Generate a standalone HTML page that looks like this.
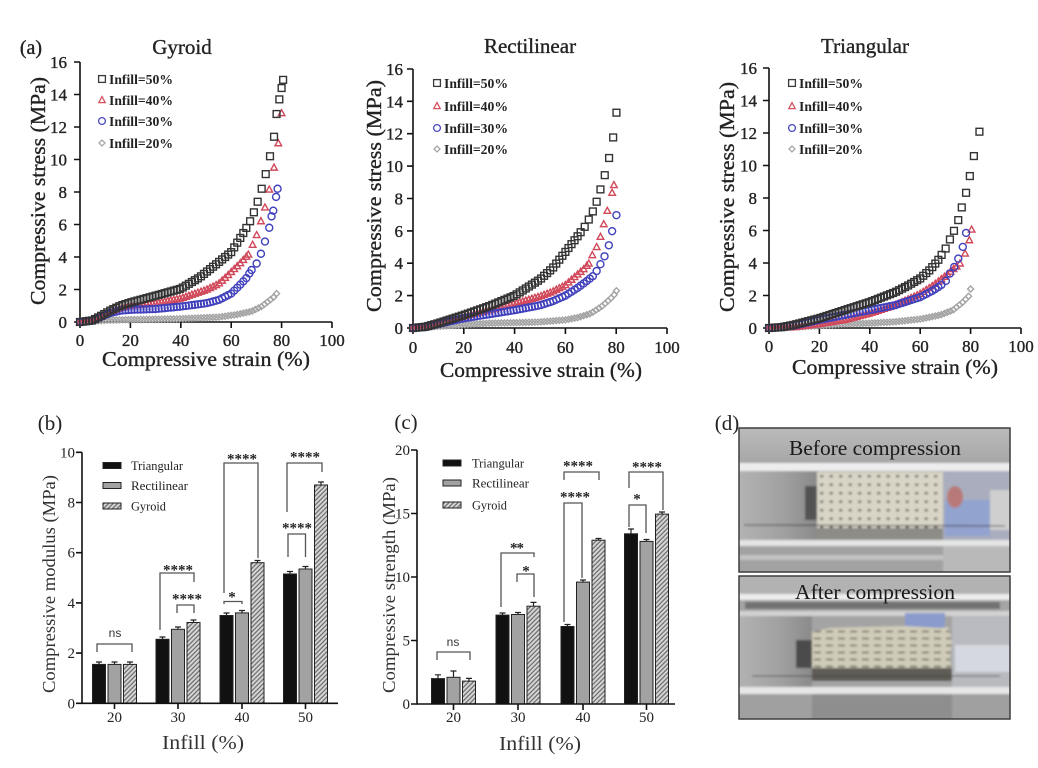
<!DOCTYPE html>
<html><head><meta charset="utf-8"><style>
html,body{margin:0;padding:0;background:#fff;}
svg{display:block;}
text{font-family:"Liberation Serif",serif;fill:#222;}
.hv{stroke:#222;stroke-width:0.35px;}
.s{font-family:"Liberation Sans",sans-serif;font-weight:bold;fill:#333;}
.ns{font-family:"Liberation Sans",sans-serif;fill:#333;}
.lg{font-weight:bold;fill:#333;}
.bl{fill:#333;}
</style></head><body>
<svg width="1038" height="768" viewBox="0 0 1038 768" xmlns="http://www.w3.org/2000/svg">
<defs>
<pattern id="hatch" patternUnits="userSpaceOnUse" width="3.2" height="3.2" patternTransform="rotate(45)">
<rect width="3.2" height="3.2" fill="#d6d6d6"/><line x1="0.8" y1="0" x2="0.8" y2="3.2" stroke="#6a6a6a" stroke-width="1.2"/>
</pattern>
<pattern id="dots" patternUnits="userSpaceOnUse" x="817" y="472" width="9.5" height="8.5">
<ellipse cx="4.7" cy="4.2" rx="1.6" ry="1.1" fill="#3a3a36"/>
</pattern>
<pattern id="lines2" patternUnits="userSpaceOnUse" x="812" y="628" width="12" height="7">
<line x1="2" y1="3.5" x2="9" y2="3.5" stroke="#5e5a4e" stroke-width="1.4"/>
</pattern>
<linearGradient id="gTop" x1="0" y1="0" x2="0" y2="1"><stop offset="0" stop-color="#bdbdbd"/><stop offset="1" stop-color="#a6a6a6"/></linearGradient>
<linearGradient id="gLeft" x1="0" y1="0" x2="1" y2="0"><stop offset="0" stop-color="#b4b4b4"/><stop offset="0.6" stop-color="#a0a0a0"/><stop offset="1" stop-color="#8a8a8a"/></linearGradient>
<clipPath id="c1"><rect x="739" y="428" width="271" height="144"/></clipPath>
<clipPath id="c2"><rect x="739" y="576" width="271" height="143"/></clipPath>
<filter id="blr" x="-5%" y="-5%" width="110%" height="110%"><feGaussianBlur stdDeviation="1.1"/></filter>
</defs>
<rect width="1038" height="768" fill="#fff"/>

<!-- ================= (a) Gyroid ================= -->
<text x="31" y="54" font-size="20" text-anchor="middle" class="hv">(a)</text>
<text x="182" y="54" font-size="21" text-anchor="middle" class="hv">Gyroid</text>
<g stroke="#111" stroke-width="1.6" fill="none">
<path d="M80,62 V322 H332"/>
<path d="M74,322H80M74,289.5H80M74,257H80M74,224.5H80M74,192H80M74,159.5H80M74,127H80M74,94.5H80M74,62H80"/>
<path d="M80,322V328M130.4,322V328M180.8,322V328M231.2,322V328M281.6,322V328M332,322V328"/>
</g>
<g font-size="17" text-anchor="end" class="hv">
<text x="67" y="328">0</text><text x="67" y="295.5">2</text><text x="67" y="263">4</text><text x="67" y="230.5">6</text><text x="67" y="198">8</text><text x="67" y="165.5">10</text><text x="67" y="133">12</text><text x="67" y="100.5">14</text><text x="67" y="68">16</text>
</g>
<g font-size="17" text-anchor="middle" class="hv">
<text x="80" y="346">0</text><text x="130.4" y="346">20</text><text x="180.8" y="346">40</text><text x="231.2" y="346">60</text><text x="281.6" y="346">80</text><text x="332" y="346">100</text>
</g>
<text transform="translate(45,191) rotate(-90)" font-size="21" text-anchor="middle" textLength="228" lengthAdjust="spacingAndGlyphs" class="hv">Compressive stress (MPa)</text>
<text x="206" y="366" font-size="21" text-anchor="middle" textLength="208" lengthAdjust="spacingAndGlyphs" class="hv">Compressive strain (%)</text>
<g id="pG"></g>
<g fill="none" stroke-width="1.3">
<rect x="98.6" y="75.6" width="6.8" height="6.8" stroke="#3a3a3a"/>
<polygon points="102,96.6 98.8,102.6 105.2,102.6" stroke="#d4505c"/>
<circle cx="102" cy="121" r="3.4" stroke="#4848c0"/>
<polygon points="102,140 105,143 102,146 99,143" stroke="#a8a8a8"/>
</g>
<g font-size="14" class="lg">
<text x="109" y="84" textLength="64" lengthAdjust="spacingAndGlyphs">Infill=50%</text>
<text x="109" y="105" textLength="64" lengthAdjust="spacingAndGlyphs">Infill=40%</text>
<text x="109" y="126" textLength="64" lengthAdjust="spacingAndGlyphs">Infill=30%</text>
<text x="109" y="148" textLength="64" lengthAdjust="spacingAndGlyphs">Infill=20%</text>
</g>

<!-- ================= Rectilinear ================= -->
<text x="530" y="53" font-size="21" text-anchor="middle" class="hv">Rectilinear</text>
<g stroke="#111" stroke-width="1.6" fill="none">
<path d="M413,69 V328 H667"/>
<path d="M407,328H413M407,295.6H413M407,263.2H413M407,230.9H413M407,198.5H413M407,166.1H413M407,133.7H413M407,101.3H413M407,69H413"/>
<path d="M413,328V334M463.8,328V334M514.6,328V334M565.4,328V334M616.2,328V334M667,328V334"/>
</g>
<g font-size="17" text-anchor="end" class="hv">
<text x="403" y="334">0</text><text x="403" y="301.6">2</text><text x="403" y="269.2">4</text><text x="403" y="236.9">6</text><text x="403" y="204.5">8</text><text x="403" y="172.1">10</text><text x="403" y="139.7">12</text><text x="403" y="107.3">14</text><text x="403" y="75">16</text>
</g>
<g font-size="17" text-anchor="middle" class="hv">
<text x="413" y="353">0</text><text x="463.8" y="353">20</text><text x="514.6" y="353">40</text><text x="565.4" y="353">60</text><text x="616.2" y="353">80</text><text x="667" y="353">100</text>
</g>
<text transform="translate(381,196) rotate(-90)" font-size="21" text-anchor="middle" textLength="232" lengthAdjust="spacingAndGlyphs" class="hv">Compressive stress (MPa)</text>
<text x="541" y="377" font-size="21" text-anchor="middle" textLength="202" lengthAdjust="spacingAndGlyphs" class="hv">Compressive strain (%)</text>
<g id="pR"></g>
<g fill="none" stroke-width="1.3">
<rect x="433.6" y="79.6" width="6.8" height="6.8" stroke="#3a3a3a"/>
<polygon points="437,102.6 433.8,108.6 440.2,108.6" stroke="#d4505c"/>
<circle cx="437" cy="128" r="3.4" stroke="#4848c0"/>
<polygon points="437,146 440,149 437,152 434,149" stroke="#a8a8a8"/>
</g>
<g font-size="14" class="lg">
<text x="444" y="88" textLength="64" lengthAdjust="spacingAndGlyphs">Infill=50%</text>
<text x="444" y="111" textLength="64" lengthAdjust="spacingAndGlyphs">Infill=40%</text>
<text x="444" y="133" textLength="64" lengthAdjust="spacingAndGlyphs">Infill=30%</text>
<text x="444" y="154" textLength="64" lengthAdjust="spacingAndGlyphs">Infill=20%</text>
</g>

<!-- ================= Triangular ================= -->
<text x="865" y="53" font-size="21" text-anchor="middle" class="hv">Triangular</text>
<g stroke="#111" stroke-width="1.6" fill="none">
<path d="M769,68 V328 H1021"/>
<path d="M763,328H769M763,295.5H769M763,263H769M763,230.5H769M763,198H769M763,165.5H769M763,133H769M763,100.5H769M763,68H769"/>
<path d="M769,328V334M819.4,328V334M869.8,328V334M920.2,328V334M970.6,328V334M1021,328V334"/>
</g>
<g font-size="17" text-anchor="end" class="hv">
<text x="757" y="334">0</text><text x="757" y="301.5">2</text><text x="757" y="269">4</text><text x="757" y="236.5">6</text><text x="757" y="204">8</text><text x="757" y="171.5">10</text><text x="757" y="139">12</text><text x="757" y="106.5">14</text><text x="757" y="74">16</text>
</g>
<g font-size="17" text-anchor="middle" class="hv">
<text x="769" y="352">0</text><text x="819.4" y="352">20</text><text x="869.8" y="352">40</text><text x="920.2" y="352">60</text><text x="970.6" y="352">80</text><text x="1021" y="352">100</text>
</g>
<text transform="translate(734,197) rotate(-90)" font-size="21" text-anchor="middle" textLength="230" lengthAdjust="spacingAndGlyphs" class="hv">Compressive stress (MPa)</text>
<text x="895" y="374" font-size="21" text-anchor="middle" textLength="206" lengthAdjust="spacingAndGlyphs" class="hv">Compressive strain (%)</text>
<g id="pT"></g>
<g fill="none" stroke-width="1.3">
<rect x="788.6" y="79.6" width="6.8" height="6.8" stroke="#3a3a3a"/>
<polygon points="792,102.6 788.8,108.6 795.2,108.6" stroke="#d4505c"/>
<circle cx="792" cy="128" r="3.4" stroke="#4848c0"/>
<polygon points="792,146 795,149 792,152 789,149" stroke="#a8a8a8"/>
</g>
<g font-size="14" class="lg">
<text x="799" y="88" textLength="64" lengthAdjust="spacingAndGlyphs">Infill=50%</text>
<text x="799" y="111" textLength="64" lengthAdjust="spacingAndGlyphs">Infill=40%</text>
<text x="799" y="133" textLength="64" lengthAdjust="spacingAndGlyphs">Infill=30%</text>
<text x="799" y="154" textLength="64" lengthAdjust="spacingAndGlyphs">Infill=20%</text>
</g>

<!-- ================= (b) ================= -->
<text x="50" y="430" font-size="21" text-anchor="middle">(b)</text>
<g stroke="#222" stroke-width="1">
<rect x="92.5" y="664.4" width="13" height="38.9" fill="#111"/>
<rect x="108" y="664.4" width="13" height="38.9" fill="#a2a2a2"/>
<rect x="123.5" y="664.4" width="13" height="38.9" fill="url(#hatch)"/>
<rect x="156" y="639.3" width="13" height="64" fill="#111"/>
<rect x="171.5" y="629.3" width="13" height="74" fill="#a2a2a2"/>
<rect x="187" y="622.5" width="13" height="80.8" fill="url(#hatch)"/>
<rect x="220" y="615.5" width="13" height="87.8" fill="#111"/>
<rect x="235.5" y="612.9" width="13" height="90.4" fill="#a2a2a2"/>
<rect x="251" y="562.7" width="13" height="140.6" fill="url(#hatch)"/>
<rect x="283.5" y="574" width="13" height="129.3" fill="#111"/>
<rect x="299" y="569" width="13" height="134.3" fill="#a2a2a2"/>
<rect x="314.5" y="485" width="13" height="218.3" fill="url(#hatch)"/>
</g>
<g stroke="#222" stroke-width="1.2" fill="none">
<path d="M99,664.4V662M96,662H102M114.5,664.4V662M111.5,662H117.5M130,664.4V662M127,662H133"/>
<path d="M162.5,639.3V637M159.5,637H165.5M178,629.3V627M175,627H181M193.5,622.5V620M190.5,620H196.5"/>
<path d="M226.5,615.5V613M223.5,613H229.5M242,612.9V610.5M239,610.5H245M257.5,562.7V560.5M254.5,560.5H260.5"/>
<path d="M290,574V571.5M287,571.5H293M305.5,569V566.5M302.5,566.5H308.5M321,485V482M318,482H324"/>
</g>
<g stroke="#111" stroke-width="1.6" fill="none">
<path d="M82,452.3V703.3H338"/>
<path d="M76,703.3H82M76,653.1H82M76,602.9H82M76,552.7H82M76,502.5H82M76,452.3H82"/>
<path d="M114.5,703.3V709M178,703.3V709M242,703.3V709M305.5,703.3V709"/>
</g>
<g font-size="15" text-anchor="end" class="bl">
<text x="75" y="708.3">0</text><text x="75" y="658.1">2</text><text x="75" y="607.9">4</text><text x="75" y="557.7">6</text><text x="75" y="507.5">8</text><text x="75" y="457.3">10</text>
</g>
<g font-size="15" text-anchor="middle" class="bl">
<text x="114.5" y="722">20</text><text x="178" y="722">30</text><text x="242" y="722">40</text><text x="305.5" y="722">50</text>
</g>
<text transform="translate(55,584) rotate(-90)" font-size="18" text-anchor="middle" textLength="218" lengthAdjust="spacingAndGlyphs" class="bl">Compressive modulus (MPa)</text>
<text x="203" y="749" font-size="20" text-anchor="middle" textLength="82" lengthAdjust="spacingAndGlyphs" class="bl">Infill (%)</text>
<g stroke="#222" stroke-width="1">
<rect x="103" y="462.5" width="18" height="6" fill="#111"/>
<rect x="103" y="482.5" width="18" height="6" fill="#a2a2a2"/>
<rect x="103" y="503" width="18" height="6" fill="url(#hatch)"/>
</g>
<g font-size="13" class="bl">
<text x="131" y="470" textLength="52" lengthAdjust="spacingAndGlyphs">Triangular</text>
<text x="131" y="490" textLength="57" lengthAdjust="spacingAndGlyphs">Rectilinear</text>
<text x="131" y="510.5" textLength="35" lengthAdjust="spacingAndGlyphs">Gyroid</text>
</g>
<g stroke="#555" stroke-width="1.3" fill="none">
<path d="M97,652V644H132V652"/>
<path d="M160,630V573H194V582"/>
<path d="M177,613V605H194V613"/>
<path d="M224,604V601.5H242V604"/>
<path d="M224,593V463H258V558"/>
<path d="M287,512V463H322V472"/>
<path d="M288,557V534H305.5V557"/>
</g>
<text x="115" y="637" font-size="12" text-anchor="middle" class="ns">ns</text>
<g font-size="15" text-anchor="middle" class="s">
<text x="178" y="574.7" textLength="30" lengthAdjust="spacing">****</text>
<text x="187" y="603.7" textLength="30" lengthAdjust="spacing">****</text>
<text x="232" y="601.7">*</text>
<text x="242" y="463.7" textLength="30" lengthAdjust="spacing">****</text>
<text x="305" y="461.7" textLength="30" lengthAdjust="spacing">****</text>
<text x="297" y="532.7" textLength="30" lengthAdjust="spacing">****</text>
</g>

<!-- ================= (c) ================= -->
<text x="406" y="429" font-size="21" text-anchor="middle">(c)</text>
<g stroke="#222" stroke-width="1">
<rect x="431.5" y="678.6" width="13" height="25.4" fill="#111"/>
<rect x="447" y="677.3" width="13" height="26.7" fill="#a2a2a2"/>
<rect x="462.5" y="681.1" width="13" height="22.9" fill="url(#hatch)"/>
<rect x="496" y="615.1" width="13" height="88.9" fill="#111"/>
<rect x="511.5" y="614.5" width="13" height="89.5" fill="#a2a2a2"/>
<rect x="527" y="606.2" width="13" height="97.8" fill="url(#hatch)"/>
<rect x="561" y="626.5" width="13" height="77.5" fill="#111"/>
<rect x="576.5" y="582.1" width="13" height="121.9" fill="#a2a2a2"/>
<rect x="592" y="540.2" width="13" height="163.8" fill="url(#hatch)"/>
<rect x="624.5" y="533.8" width="13" height="170.2" fill="#111"/>
<rect x="640" y="541.4" width="13" height="162.6" fill="#a2a2a2"/>
<rect x="655.5" y="514.1" width="13" height="189.9" fill="url(#hatch)"/>
</g>
<g stroke="#222" stroke-width="1.2" fill="none">
<path d="M438,678.6V674.8M435,674.8H441M453.5,677.3V671M450.5,671H456.5M469,681.1V678.4M466,678.4H472"/>
<path d="M502.5,615.1V613M499.5,613H505.5M518,614.5V612.5M515,612.5H521M533.5,606.2V602.4M530.5,602.4H536.5"/>
<path d="M567.5,626.5V624.5M564.5,624.5H570.5M583,582.1V580M580,580H586M598.5,540.2V538.5M595.5,538.5H601.5"/>
<path d="M631,533.8V529M628,529H634M646.5,541.4V539.5M643.5,539.5H649.5M662,514.1V512M659,512H665"/>
</g>
<g stroke="#111" stroke-width="1.6" fill="none">
<path d="M417,450V704H675"/>
<path d="M411,704H417M411,640.5H417M411,577H417M411,513.5H417M411,450H417"/>
<path d="M453.5,704V710M518,704V710M583,704V710M646.5,704V710"/>
</g>
<g font-size="15" text-anchor="end" class="bl">
<text x="410" y="709">0</text><text x="410" y="645.5">5</text><text x="410" y="582">10</text><text x="410" y="518.5">15</text><text x="410" y="455">20</text>
</g>
<g font-size="15" text-anchor="middle" class="bl">
<text x="453.5" y="722">20</text><text x="518" y="722">30</text><text x="583" y="722">40</text><text x="646.5" y="722">50</text>
</g>
<text transform="translate(395,585) rotate(-90)" font-size="18" text-anchor="middle" textLength="216" lengthAdjust="spacingAndGlyphs" class="bl">Compressive strength (MPa)</text>
<text x="540" y="750" font-size="20" text-anchor="middle" textLength="82" lengthAdjust="spacingAndGlyphs" class="bl">Infill (%)</text>
<g stroke="#222" stroke-width="1">
<rect x="443" y="460" width="18" height="6" fill="#111"/>
<rect x="443" y="480" width="18" height="6" fill="#a2a2a2"/>
<rect x="443" y="502" width="18" height="6" fill="url(#hatch)"/>
</g>
<g font-size="13" class="bl">
<text x="472" y="467.5" textLength="52" lengthAdjust="spacingAndGlyphs">Triangular</text>
<text x="472" y="487.5" textLength="57" lengthAdjust="spacingAndGlyphs">Rectilinear</text>
<text x="472" y="509.5" textLength="35" lengthAdjust="spacingAndGlyphs">Gyroid</text>
</g>
<g stroke="#555" stroke-width="1.3" fill="none">
<path d="M437,660V652H470V660"/>
<path d="M501,607V553H534V557"/>
<path d="M517,582V574H534V597"/>
<path d="M564,480V472H599V480"/>
<path d="M564,622V503H582V578"/>
<path d="M629,488V472H663V510"/>
<path d="M629,527V505H646V533"/>
</g>
<text x="453" y="646" font-size="12" text-anchor="middle" class="ns">ns</text>
<g font-size="15" text-anchor="middle" class="s">
<text x="517" y="552.7" textLength="14" lengthAdjust="spacing">**</text>
<text x="526" y="575.7">*</text>
<text x="578" y="470.7" textLength="30" lengthAdjust="spacing">****</text>
<text x="575" y="501.7" textLength="30" lengthAdjust="spacing">****</text>
<text x="647" y="471.7" textLength="30" lengthAdjust="spacing">****</text>
<text x="637" y="503.7">*</text>
</g>

<!-- ================= (d) ================= -->
<text x="727" y="430" font-size="21" text-anchor="middle">(d)</text>
<g clip-path="url(#c1)"><g filter="url(#blr)">
<rect x="735" y="424" width="279" height="152" fill="#a6a6a6"/>
<rect x="735" y="424" width="279" height="40" fill="url(#gTop)"/>
<rect x="735" y="463" width="279" height="8" fill="#ededed"/>
<rect x="735" y="471" width="82" height="69" fill="url(#gLeft)"/>
<rect x="805" y="486" width="12" height="34" fill="#525252"/>
<rect x="817" y="472" width="126" height="56" fill="#d8d4c6"/>
<rect x="817" y="472" width="126" height="56" fill="url(#dots)"/>
<rect x="817" y="528" width="126" height="12" fill="#8e8c86"/>
<rect x="943" y="471" width="70" height="69" fill="#a9adbd"/>
<rect x="945" y="500" width="45" height="36" fill="#93a3cf"/>
<ellipse cx="955" cy="497" rx="8" ry="11" fill="#b87a78"/>
<rect x="990" y="490" width="24" height="40" fill="#cfcfcf"/>
<line x1="744" y1="525" x2="1005" y2="526" stroke="#3c3c3c" stroke-width="1"/>
<rect x="735" y="540" width="279" height="6" fill="#e4e4e4"/>
<rect x="735" y="546" width="279" height="30" fill="#a2a2a2"/>
<rect x="735" y="555" width="279" height="5" fill="#c2c2c2"/>
<rect x="943" y="546" width="70" height="30" fill="#b9b9b9"/>
</g></g>
<rect x="739" y="428" width="271" height="144" fill="none" stroke="#3d3d3d" stroke-width="1.5"/>
<text x="875" y="455" font-size="21" text-anchor="middle" textLength="172" lengthAdjust="spacingAndGlyphs" style="fill:#1a1a1a">Before compression</text>

<g clip-path="url(#c2)"><g filter="url(#blr)">
<rect x="735" y="572" width="279" height="152" fill="#a4a4a4"/>
<rect x="735" y="572" width="279" height="23" fill="#b2b2b2"/>
<rect x="735" y="594" width="279" height="6" fill="#ececec"/>
<rect x="745" y="602" width="255" height="7" fill="#727272"/>
<rect x="735" y="611" width="279" height="5" fill="#d2d2d2"/>
<rect x="735" y="616" width="77" height="71" fill="url(#gLeft)"/>
<rect x="796" y="640" width="16" height="28" fill="#4c4c4c"/>
<rect x="952" y="616" width="62" height="71" fill="#b8bac0"/>
<rect x="905" y="613" width="40" height="17" fill="#8b9bcb"/>
<rect x="955" y="645" width="59" height="27" fill="#d5d8e0"/>
<path d="M812,632 L830,628 L905,626 L940,628 L948,627 L952,640 L950,660 L952,672 L812,674 Z" fill="#d0ccb9"/>
<path d="M812,632 L830,628 L905,626 L940,628 L948,627 L952,640 L950,660 L952,672 L812,674 Z" fill="url(#lines2)"/>
<rect x="812" y="668" width="140" height="13" fill="#5e5c54"/>
<line x1="752" y1="676" x2="1000" y2="676" stroke="#444" stroke-width="1"/>
<rect x="735" y="687" width="279" height="7" fill="#e6e6e6"/>
<rect x="735" y="694" width="279" height="30" fill="#a0a0a0"/>
<rect x="812" y="694" width="140" height="30" fill="#8e8e8e"/>
</g></g>
<rect x="739" y="576" width="271" height="143" fill="none" stroke="#3d3d3d" stroke-width="1.5"/>
<text x="875" y="599" font-size="21" text-anchor="middle" textLength="160" lengthAdjust="spacingAndGlyphs" style="fill:#1a1a1a">After compression</text>
</svg>
<script>
(function(){
var NS='http://www.w3.org/2000/svg';
function lerp(k,x){for(var i=1;i<k.length;i++){if(x<=k[i][0]){var a=k[i-1],b=k[i];var t=(x-a[0])/(b[0]-a[0]);return a[1]+t*(b[1]-a[1]);}}return k[k.length-1][1];}
function add(g,type,px,py,col){
 var e;
 if(type==='s'){e=document.createElementNS(NS,'rect');e.setAttribute('x',px-3.4);e.setAttribute('y',py-3.4);e.setAttribute('width',6.8);e.setAttribute('height',6.8);}
 else if(type==='t'){e=document.createElementNS(NS,'polygon');e.setAttribute('points',px+','+(py-3.5)+' '+(px-3.3)+','+(py+2.5)+' '+(px+3.3)+','+(py+2.5));}
 else if(type==='c'){e=document.createElementNS(NS,'circle');e.setAttribute('cx',px);e.setAttribute('cy',py);e.setAttribute('r',3.5);}
 else {e=document.createElementNS(NS,'polygon');e.setAttribute('points',px+','+(py-3)+' '+(px+3)+','+py+' '+px+','+(py+3)+' '+(px-3)+','+py);}
 e.setAttribute('fill','none');e.setAttribute('stroke',col);e.setAttribute('stroke-width','1.4');
 g.appendChild(e);
}
var C={s:'#333333',t:'#d0485a',c:'#4040bc',d:'#a4a4a4'};
function draw(P,S){var g=document.getElementById(P.id);
 S.forEach(function(s){var k=s.k,T=s.t||k[k.length-1][0],step=1.2,pts=[];
  for(var x=0;x<T-0.6;x+=step)pts.push([x,lerp(k,x)]);
  k.forEach(function(p){if(p[0]>=T)pts.push(p);});
  pts.forEach(function(p){add(g,s.m,P.x0+p[0]*P.sx,P.y0-p[1]*P.sy,C[s.m]);});
 });
}
draw({id:'pG',x0:80,sx:2.52,y0:322,sy:16.25},[
 {m:'d',k:[[0,0],[10,0.1],[20,0.15],[40,0.2],[55,0.3],[62,0.45],[68,0.65],[72,0.95],[75,1.3],[77,1.55],[78,1.75]]},
 {m:'t',t:66.8,k:[[0,0],[5,0.08],[8,0.3],[12,0.6],[16,0.85],[20,1.0],[30,1.15],[40,1.45],[50,1.97],[55,2.35],[58.2,2.8],[60.8,3.2],[63.5,3.6],[66.8,4.15],[68.5,4.75],[70.1,5.35],[71.8,6.2],[73.4,7.05],[75.1,8.15],[77,9.5],[78.7,11.0],[80,12.85]]},
 {m:'c',t:68.1,k:[[0,0],[5,0.08],[8,0.3],[12,0.55],[16,0.7],[20,0.75],[30,0.8],[40,0.95],[50,1.15],[55,1.35],[60,1.75],[63,2.2],[66,2.7],[68.1,3.2],[70.1,3.6],[71.8,4.2],[73.4,4.95],[75.1,5.8],[76,6.5],[76.7,6.85],[77.8,7.7],[78.4,8.2]]},
 {m:'s',t:67.5,k:[[0,0],[5,0.1],[8,0.35],[12,0.7],[16,1.0],[20,1.2],[30,1.62],[40,2.05],[47.5,2.75],[54,3.55],[60,4.3],[63.5,5.15],[65.5,5.65],[67.5,6.2],[69,6.75],[70.5,7.4],[72.1,8.2],[73.7,9.1],[75.4,10.2],[77,11.4],[78,12.8],[79.1,13.7],[80,14.4],[80.6,14.9]]}
]);
draw({id:'pR',x0:413,sx:2.54,y0:328,sy:16.19},[
 {m:'d',k:[[0,0],[10,0.1],[20,0.2],[30,0.3],[40,0.33],[50,0.37],[60,0.5],[65,0.65],[70,0.9],[74,1.3],[77,1.7],[79,2.0],[80.1,2.3]]},
 {m:'t',t:69.2,k:[[0,0],[5,0.05],[10,0.3],[20,0.7],[30,1.1],[40,1.5],[50,1.95],[55,2.25],[60,2.65],[64,3.2],[67,3.6],[69.2,3.98],[70.6,4.5],[72.3,5.0],[73.8,5.63],[75.1,6.41],[76.5,7.24],[78.4,8.35],[79.1,8.83]]},
 {m:'c',t:70.8,k:[[0,0],[5,0.05],[10,0.25],[20,0.6],[30,0.85],[40,1.1],[50,1.4],[55,1.65],[60,2.0],[65,2.5],[68,2.85],[70.8,3.2],[72.3,3.52],[73.8,3.94],[75.4,4.43],[77.1,5.11],[78.4,5.98],[80.1,6.97]]},
 {m:'s',t:67.6,k:[[0,0],[5,0.08],[10,0.3],[20,0.8],[30,1.35],[40,2.0],[50,3.0],[55,3.7],[60,4.7],[64,5.5],[67.6,6.25],[69.2,6.7],[70.8,7.2],[72.3,7.8],[73.8,8.56],[75.5,9.44],[77.2,10.5],[78.8,11.77],[80.1,13.3]]}
]);
draw({id:'pT',x0:769,sx:2.52,y0:328,sy:16.25},[
 {m:'d',k:[[0,0],[10,0.05],[20,0.15],[30,0.25],[40,0.3],[50,0.38],[60,0.55],[68,0.8],[73,1.1],[77,1.6],[79.5,2.0],[80,2.4]]},
 {m:'t',t:75.8,k:[[0,0],[5,0.02],[10,0.05],[20,0.25],[30,0.5],[40,0.9],[50,1.4],[60,2.1],[65,2.6],[70,3.2],[73,3.6],[75.8,3.97],[77.8,4.58],[79.5,5.4],[80.4,6.06]]},
 {m:'c',t:70.2,k:[[0,0],[5,0.05],[10,0.15],[20,0.5],[30,0.8],[40,1.1],[50,1.4],[60,1.9],[65,2.3],[68,2.6],[70.2,2.9],[71.8,3.35],[73.5,3.76],[75.1,4.27],[76.9,4.99],[78.2,5.85]]},
 {m:'s',t:68.5,k:[[0,0],[5,0.05],[10,0.2],[20,0.6],[30,1.1],[40,1.6],[50,2.2],[55,2.6],[60,3.05],[64,3.6],[67,4.15],[68.5,4.5],[70.1,4.89],[71.8,5.45],[73.4,5.98],[75.1,6.64],[76.5,7.42],[78.2,8.32],[79.7,9.35],[81.3,10.58],[83.5,12.08]]}
]);
})();
</script>
</body></html>
